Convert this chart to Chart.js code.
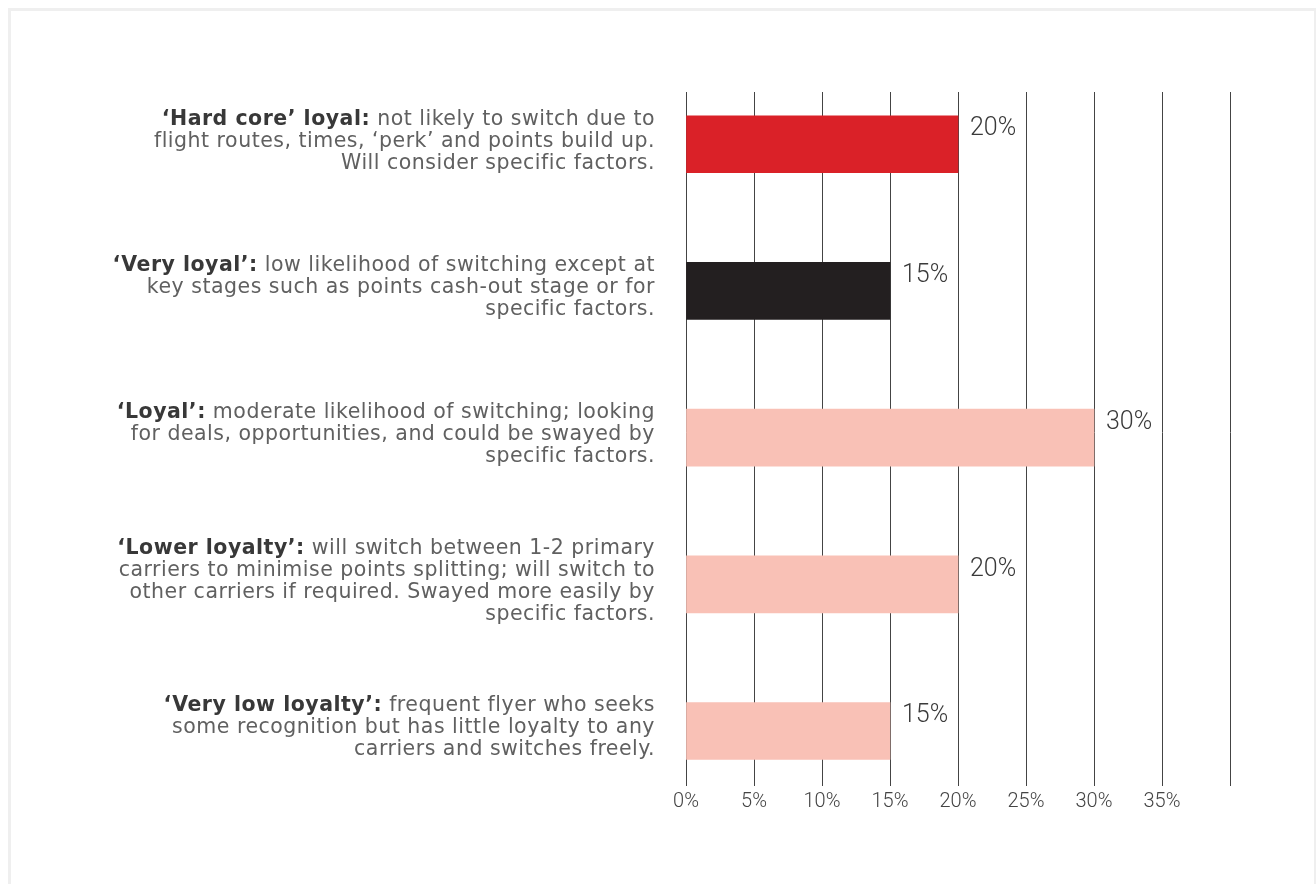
<!DOCTYPE html>
<html>
<head>
<meta charset="utf-8">
<script src="https://cdn.jsdelivr.net/npm/chart.js@4"></script>
<style>
  html, body { margin: 0; padding: 0; background: #fff; }
  #frame {
    position: absolute; left: 8px; top: 8px; width: 1303px; height: 880px;
    border-top: 3px solid #efefef; border-left: 3px solid #efefef; border-right: 2px solid #efefef;
  }
  #wrap { position: absolute; left: 0; top: 0; width: 1316px; height: 884px; }
</style>
</head>
<body>
<div id="frame"></div>
<div id="wrap"><canvas id="chart" width="1316" height="884"></canvas></div>
<script>
// Loyalty segments (top to bottom)
const titles = ['‘Hard core’ loyal:', '‘Very loyal’:', '‘Loyal’:', '‘Lower loyalty’:', '‘Very low loyalty’:'];
const descriptions = [
    [' not likely to switch due to', 'flight routes, times, ‘perk’ and points build up.', 'Will consider specific factors.'],
    [' low likelihood of switching except at', 'key stages such as points cash-out stage or for', 'specific factors.'],
    [' moderate likelihood of switching; looking', 'for deals, opportunities, and could be swayed by', 'specific factors.'],
    [' will switch between 1-2 primary', 'carriers to minimise points splitting; will switch to', 'other carriers if required. Swayed more easily by', 'specific factors.'],
    [' frequent flyer who seeks', 'some recognition but has little loyalty to any', 'carriers and switches freely.']
];
const shares = [20, 15, 30, 20, 15];
const tickValues = [0, 5, 10, 15, 20, 25, 30, 35, 40];
const tickLabels = ['0%', '5%', '10%', '15%', '20%', '25%', '30%', '35%', ''];

const barColors = ['#da2128', '#231f20', '#f9c1b6', '#f9c1b6', '#f9c1b6'];

// Left hand descriptions, bold title + regular text, right aligned
const sideLabels = {
    id: 'sideLabels',
    afterDraw(chart) {
        const ctx = chart.ctx;
        const yScale = chart.scales.y;
        const right = chart.chartArea.left - 31;
        const lineH = 22;
        ctx.save();
        ctx.textBaseline = 'middle';
        ctx.textAlign = 'right';
        ctx.letterSpacing = '0.5px';
        titles.forEach((title, i) => {
            const lines = descriptions[i];
            const cy = yScale.getPixelForValue(i) - 3;
            const y0 = cy - (lines.length - 1) * lineH / 2;
            lines.forEach((line, j) => {
                const y = y0 + j * lineH;
                ctx.font = '20.5px "DejaVu Sans"';
                ctx.fillStyle = '#606060';
                ctx.fillText(line, right, y);
                if (j === 0) {
                    const w = ctx.measureText(line).width;
                    ctx.font = 'bold 20.5px "DejaVu Sans"';
                    ctx.fillStyle = '#383838';
                    ctx.fillText(title, right - w, y);
                }
            });
        });
        ctx.restore();
    }
};

// Percent labels right of each bar
const valueLabels = {
    id: 'valueLabels',
    afterDatasetsDraw(chart) {
        const ctx = chart.ctx;
        const meta = chart.getDatasetMeta(0);
        ctx.save();
        ctx.font = '300 25px Roboto';
        ctx.fillStyle = '#3a3a3a';
        ctx.textAlign = 'left';
        ctx.textBaseline = 'top';
        meta.data.forEach((bar, i) => {
            ctx.fillText(shares[i] + '%', bar.x + 12, bar.y - bar.height / 2 + 1);
        });
        ctx.restore();
    }
};

new Chart(document.getElementById('chart'), {
    type: 'bar',
    data: {
        datasets: [{
            data: shares.map((v, i) => ({ x: v, y: i })),
            backgroundColor: barColors,
            borderWidth: 0,
            barThickness: 57
        }]
    },
    options: {
        indexAxis: 'y',
        responsive: false,
        animation: false,
        layout: { padding: { left: 686, right: 86, top: 92, bottom: 66 } },
        plugins: { legend: { display: false }, tooltip: { enabled: false } },
        scales: {
            x: {
                type: 'linear',
                min: 0,
                max: 40,
                afterBuildTicks: (axis) => { axis.ticks = tickValues.map(v => ({ value: v })); },
                grid: { color: '#444', lineWidth: 1, drawTicks: true, tickLength: 13, tickColor: '#444' },
                border: { display: false },
                ticks: {
                    padding: 4,
                    color: '#444',
                    font: { family: 'Roboto', weight: 300, size: 20 },
                    maxRotation: 0,
                    callback: (v) => tickLabels[tickValues.indexOf(v)]
                }
            },
            y: {
                type: 'linear',
                display: false,
                reverse: true,
                offset: false,
                min: -0.356,
                max: 4.286
            }
        }
    },
    plugins: [sideLabels, valueLabels]
});
</script>
</body>
</html>
